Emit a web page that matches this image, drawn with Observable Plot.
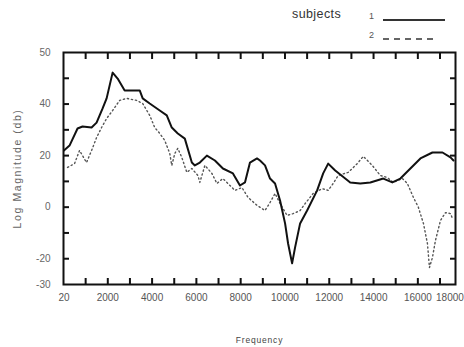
<!DOCTYPE html>
<html>
<head>
<meta charset="utf-8">
<script src="https://cdn.jsdelivr.net/npm/d3@7"></script>
<script src="https://cdn.jsdelivr.net/npm/@observablehq/plot@0.6"></script>
<style>
  html, body { margin: 0; padding: 0; background: #fff; }
  #wrap { position: relative; width: 464px; height: 347px; font-family: "Liberation Sans", Arial, sans-serif; }
  #legend { position: absolute; left: 0; top: 0; width: 464px; height: 50px; pointer-events: none; }
  #legend .t { position: absolute; font-size: 12.5px; color: #333; letter-spacing: 0.4px; }
  #chart svg { display: block; }
  #chart [aria-label="y-axis label"] text { letter-spacing: 1.6px; }
  #chart [aria-label="x-axis label"] text { letter-spacing: 0.8px; }
</style>
</head>
<body>
<div id="wrap">
  <div id="chart"></div>
  <div id="legend"></div>
</div>
<script>
// ---- data ----
const freq1 = [20, 272, 634, 860, 1268, 1494, 1766, 1947, 2218, 2445, 2761, 3441, 3576, 3893, 4346, 4663, 4889, 5161, 5478, 5795, 5930, 6157, 6474, 6836, 7198, 7651, 7968, 8194, 8420, 8737, 8873, 9099, 9326, 9552, 9778, 10005, 10141, 10322, 10457, 10684, 11000, 11453, 11725, 11951, 12268, 12947, 13400, 13853, 14441, 14848, 15211, 15663, 16116, 16659, 17112, 17474, 17610];
const mag1 = [22.0, 23.9, 30.5, 31.3, 30.9, 32.8, 38.3, 42.2, 52.2, 49.9, 45.3, 45.3, 42.2, 40.2, 37.5, 35.6, 30.9, 28.6, 26.6, 17.3, 16.2, 17.3, 20.0, 18.1, 15.0, 13.1, 8.4, 9.6, 17.3, 18.9, 18.1, 16.2, 11.1, 9.2, 2.6, -6.3, -14.1, -21.8, -15.6, -6.3, -1.3, 6.5, 13.1, 16.9, 14.2, 9.6, 9.2, 9.6, 11.1, 9.6, 11.1, 15.0, 18.9, 21.2, 21.2, 19.3, 18.1];

const freq2 = [181, 498, 724, 1041, 1268, 1494, 1720, 1947, 2218, 2535, 2852, 3305, 3576, 3893, 4120, 4346, 4572, 4798, 4889, 5025, 5161, 5342, 5568, 5795, 6066, 6157, 6383, 6700, 6926, 7198, 7515, 7741, 8058, 8330, 8737, 9099, 9326, 9552, 9778, 10095, 10367, 10684, 10910, 11272, 11680, 11951, 12178, 12404, 12857, 13264, 13536, 13943, 14305, 14622, 14894, 15301, 15527, 15799, 16026, 16252, 16433, 16524, 16659, 16795, 17021, 17248, 17474, 17565];
const mag2 = [15.4, 16.9, 22.0, 17.3, 22.0, 27.0, 30.9, 34.4, 37.5, 41.4, 42.2, 41.4, 40.2, 35.6, 30.9, 28.6, 25.9, 20.8, 16.2, 20.8, 22.8, 19.3, 13.5, 15.0, 12.3, 9.6, 16.2, 13.1, 9.2, 11.1, 8.4, 6.5, 7.6, 3.8, 0.7, -1.3, 1.8, 5.3, 1.4, -3.2, -2.5, -1.3, 1.4, 5.3, 7.2, 6.5, 9.2, 12.3, 13.5, 16.9, 19.7, 16.2, 12.3, 11.5, 9.6, 11.1, 9.2, 3.8, -0.1, -6.3, -14.1, -23.4, -19.5, -12.9, -5.2, -2.1, -2.5, -4.4];

const subjects = ["1", "2"];
const xDomain = [0, 17700];
const yDomain = [-30, 60];
const xTickValues = [20, 2000, 4000, 6000, 8000, 10000, 12000, 14000, 16000, 17450];
const xTickLabels = ["20", "2000", "4000", "6000", "8000", "10000", "12000", "14000", "16000", "18000"];
const yTickValues = [60, 40, 20, 0, -20, -30];
const yTickLabels = ["50", "40", "20", "0", "-20", "-30"];
const xMinor = d3.range(1000, 17700, 1000);
const yMinor = d3.range(-20, 60, 10);
const xLabel = "Frequency";
const yLabel = "Log Magnitude (db)";
const legendTitle = "subjects";

// ---- layout ----
const W = 464, H = 347;
const mL = 63, mR = 9, mT = 52, mB = 63;
const tickPx = 6;

const s1 = freq1.map((f, i) => ({f, m: mag1[i]}));
const s2 = freq2.map((f, i) => ({f, m: mag2[i]}));
const xLab = new Map(xTickValues.map((v, i) => [v, xTickLabels[i]]));
const yLab = new Map(yTickValues.map((v, i) => [v, yTickLabels[i]]));
const inTick = {tickSize: tickPx, tickFormat: () => "", label: null, stroke: "#111", strokeWidth: 2};

const chart = Plot.plot({
  width: W, height: H,
  marginLeft: mL, marginRight: mR, marginTop: mT, marginBottom: mB,
  style: {fontFamily: "'Liberation Sans', Arial, sans-serif", background: "#fff"},
  x: {domain: xDomain},
  y: {domain: yDomain},
  marks: [
    Plot.axisX(xTickValues, {tickSize: 0, tickPadding: 9, fontSize: 10, fill: "#555", tickFormat: d => xLab.get(d), label: null}),
    Plot.axisX({ticks: [], tickSize: 0, label: xLabel, labelAnchor: "center", labelOffset: 58, labelArrow: "none", fontSize: 8.5, fill: "#444"}),
    Plot.axisY(yTickValues, {tickSize: 0, tickPadding: 13, fontSize: 10, fill: "#666", tickFormat: d => yLab.get(d), label: null}),
    Plot.axisY({ticks: [], tickSize: 0, label: yLabel, labelAnchor: "center", labelOffset: 50, labelArrow: "none", fontSize: 10.5, fill: "#666"}),
    Plot.line(s2, {x: "f", y: "m", stroke: "#555", strokeWidth: 1.4, strokeDasharray: "1.3,2.8", curve: "linear"}),
    Plot.line(s1, {x: "f", y: "m", stroke: "#111", strokeWidth: 2, curve: "linear"}),
    Plot.frame({stroke: "#111", strokeWidth: 2}),
    // inward tick marks on all four sides (axis ticks shifted inside the frame)
    Plot.axisX(xMinor, {anchor: "bottom", dy: -tickPx, ...inTick}),
    Plot.axisX(xMinor, {anchor: "top", dy: tickPx, ...inTick}),
    Plot.axisY(yMinor, {anchor: "left", dx: tickPx, ...inTick}),
    Plot.axisY(yMinor, {anchor: "right", dx: -tickPx, ...inTick})
  ]
});
document.getElementById("chart").appendChild(chart);

// ---- legend (above the frame) ----
const leg = document.getElementById("legend");
const title = document.createElement("div");
title.className = "t";
title.textContent = legendTitle;
title.style.left = "292px"; title.style.top = "7px";
leg.appendChild(title);
const styles = [{dash: null, w: 1.8, top: 15}, {dash: "6,5", w: 1.5, top: 34}];
subjects.forEach((s, i) => {
  const lab = document.createElement("div");
  lab.className = "t";
  lab.textContent = s;
  lab.style.fontSize = "9px";
  lab.style.color = "#555";
  lab.style.left = "369px"; lab.style.top = (styles[i].top - 4) + "px";
  leg.appendChild(lab);
  const sw = d3.create("svg").attr("width", 64).attr("height", 8)
    .style("position", "absolute").style("left", "382px").style("top", (styles[i].top + 1) + "px");
  sw.append("line").attr("x1", 1).attr("x2", i === 0 ? 63 : 56).attr("y1", 4).attr("y2", 4)
    .attr("stroke", "#333").attr("stroke-width", styles[i].w)
    .attr("stroke-dasharray", styles[i].dash);
  leg.appendChild(sw.node());
});
</script>
</body>
</html>
